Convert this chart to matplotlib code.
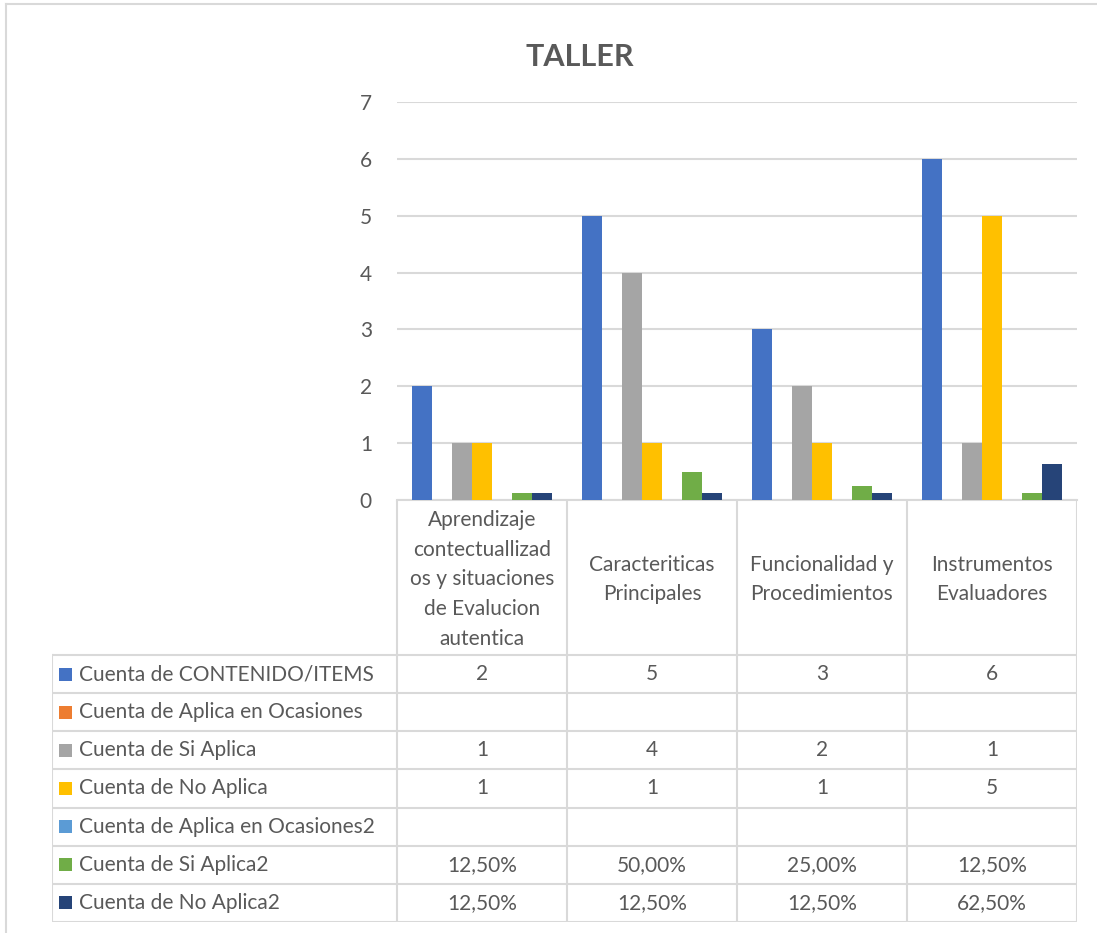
import numpy as np
import matplotlib.pyplot as plt
from matplotlib.lines import Line2D
from matplotlib.patches import Rectangle

plt.rcParams['font.family'] = ['Lato', 'DejaVu Sans']

# -------------------------------
# DATA
# -------------------------------
categories = [
    "Aprendizaje\ncontectuallizad\nos y situaciones\nde Evalucion\nautentica",
    "Caracteriticas\nPrincipales",
    "Funcionalidad y\nProcedimientos",
    "Instrumentos\nEvaluadores",
]
series_names = [
    "Cuenta de CONTENIDO/ITEMS",
    "Cuenta de Aplica en Ocasiones",
    "Cuenta de Si Aplica",
    "Cuenta de No Aplica",
    "Cuenta de Aplica en Ocasiones2",
    "Cuenta de Si Aplica2",
    "Cuenta de No Aplica2",
]
contenido = [2, 5, 3, 6]
aplica_ocasiones = [None, None, None, None]
si_aplica = [1, 4, 2, 1]
no_aplica = [1, 1, 1, 5]
aplica_ocasiones2 = [None, None, None, None]
si_aplica2 = [0.125, 0.50, 0.25, 0.125]
no_aplica2 = [0.125, 0.125, 0.125, 0.625]

series = [contenido, aplica_ocasiones, si_aplica, no_aplica,
          aplica_ocasiones2, si_aplica2, no_aplica2]
is_percent = [False, False, False, False, True, True, True]
colors = ["#4472C4", "#ED7D31", "#A5A5A5", "#FFC000",
          "#5B9BD5", "#70AD47", "#264478"]

text_col = "#595959"
grid_col = "#D9D9D9"
fs = 15

# -------------------------------
# FIGURE
# -------------------------------
W, H = 1097, 933
fig = plt.figure(figsize=(W / 100, H / 100), dpi=100)

def fx(px):
    return px / W

def fy(py):
    return 1 - py / H

# chart border
fig.add_artist(Line2D([fx(6), fx(6)], [fy(4), 0], color=grid_col, lw=1.5))
fig.add_artist(Line2D([fx(6), 1], [fy(4), fy(4)], color=grid_col, lw=1.5))

# title
fig.text(fx(580), fy(57), "TALLER", ha="center", va="center",
         fontsize=22, fontweight="bold", color=text_col)

# bar plot area
x0, x1, y_top, y_bot = 397, 1077, 102, 500
ax = fig.add_axes([fx(x0), fy(y_bot), fx(x1 - x0), (y_bot - y_top) / H])

n = len(series)
gap = 1.5
w = 1 / (n + gap)
x = np.arange(len(categories))
for i, vals in enumerate(series):
    v = [np.nan if val is None else val for val in vals]
    ax.bar(x - 0.5 + w * gap / 2 + w * i + w / 2, v, width=w,
           color=colors[i], zorder=3)

ax.set_xlim(-0.5, len(categories) - 0.5)
ax.set_ylim(0, 7)
ax.set_yticks(range(0, 8))
ax.set_xticks([])
ax.grid(axis="y", color=grid_col, lw=1.5, zorder=0)
for s in ["top", "right", "left"]:
    ax.spines[s].set_visible(False)
ax.spines["bottom"].set_color(grid_col)
ax.spines["bottom"].set_linewidth(1.5)
ax.tick_params(axis="y", length=0, pad=18, labelsize=fs, labelcolor=text_col)

# -------------------------------
# DATA TABLE
# -------------------------------
t_left, t_bot = 52, 922
head_h = 155
row_h = (t_bot - y_bot - head_h) / n
unit = (x1 - x0) / len(categories)
tax = fig.add_axes([fx(t_left), fy(t_bot), fx(x1 - t_left), (t_bot - y_bot) / H])
tax.set_xlim(-0.5 - (x0 - t_left) / unit, len(categories) - 0.5)
head_rows = head_h / row_h
tax.set_ylim(head_rows + n, 0)
tax.axis("off")

lw = 1.5
# vertical lines of category columns
for k in range(len(categories) + 1):
    tax.plot([k - 0.5, k - 0.5], [0, head_rows + n], color=grid_col, lw=lw,
             solid_capstyle="butt")
left_edge = -0.5 - (x0 - t_left) / unit
tax.plot([left_edge, left_edge], [head_rows, head_rows + n], color=grid_col, lw=lw)
# horizontal lines
for r in range(n + 1):
    tax.plot([left_edge, len(categories) - 0.5], [head_rows + r, head_rows + r],
             color=grid_col, lw=lw)

# header labels
for k, cat in enumerate(categories):
    tax.text(k, head_rows / 2 + 0.05, cat, ha="center", va="center",
             fontsize=fs, color=text_col, linespacing=1.6)

# row labels and values
sq_w = 13 / unit
sq_h = 13 / row_h
for r, name in enumerate(series_names):
    yc = head_rows + r + 0.5
    tax.add_patch(Rectangle((left_edge + 7 / unit, yc - sq_h / 2), sq_w, sq_h,
                            color=colors[r], lw=0))
    tax.text(left_edge + 27 / unit, yc, name, ha="left", va="center",
             fontsize=fs, color=text_col)
    for k, val in enumerate(series[r]):
        if val is None:
            continue
        if is_percent[r]:
            s = f"{val * 100:.2f}%".replace(".", ",")
        else:
            s = f"{val:g}"
        tax.text(k, yc, s, ha="center", va="center", fontsize=fs, color=text_col)

fig.savefig("out.png", dpi=100, facecolor="white")
